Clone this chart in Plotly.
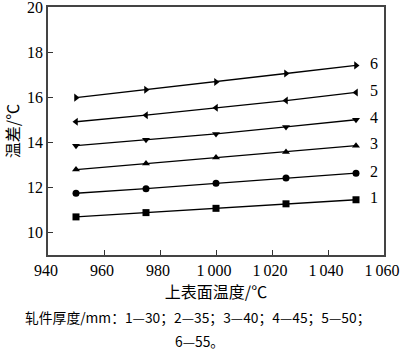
import plotly.graph_objects as go

x_vals = [950, 975, 1000, 1025, 1050]
series = {
    "1": [10.69, 10.88, 11.07, 11.27, 11.45],
    "2": [11.74, 11.94, 12.18, 12.41, 12.63],
    "3": [12.79, 13.06, 13.33, 13.57, 13.85],
    "4": [13.85, 14.11, 14.37, 14.68, 15.00],
    "5": [14.91, 15.20, 15.53, 15.85, 16.21],
    "6": [15.98, 16.33, 16.67, 17.05, 17.41],
}
symbols = ["square", "circle", "triangle-up", "triangle-down", "triangle-left", "triangle-right"]
x_ticks = [940, 960, 980, 1000, 1020, 1040, 1060]
x_tick_text = ["940", "960", "980", "1\u2009000", "1\u2009020", "1\u2009040", "1\u2009060"]
y_ticks = [10, 12, 14, 16, 18, 20]

serif = "Liberation Serif, DejaVu Serif, serif"
cjk = "Noto Sans CJK SC, Liberation Serif, serif"

fig = go.Figure()
for (name, ys), sym in zip(series.items(), symbols):
    fig.add_trace(go.Scatter(
        x=x_vals, y=ys, mode="lines+markers", name=name,
        line=dict(color="black", width=1.3),
        marker=dict(symbol=sym, size=7, color="black"),
        showlegend=False, hoverinfo="skip",
    ))
    fig.add_annotation(x=x_vals[-1], y=ys[-1], text=name, showarrow=False,
                       xanchor="left", xshift=12, yshift=2,
                       font=dict(family=serif, size=16, color="black"))

fig.update_xaxes(range=[940, 1060], tickvals=x_ticks, ticktext=x_tick_text,
                 ticks="inside", ticklen=5, tickcolor="#333", showgrid=False,
                 zeroline=False, showline=True, linecolor="#444", linewidth=1.5,
                 mirror=True, tickfont=dict(family=serif, size=16, color="black"),
                 automargin=False, ticklabeloverflow="allow", ticklabelshift=-2,
                 title=dict(text="上表面温度/℃", font=dict(family=cjk, size=16, color="black"),
                            standoff=5))
fig.update_yaxes(range=[9, 20], tickvals=y_ticks,
                 ticks="inside", ticklen=5, tickcolor="#333", showgrid=False,
                 zeroline=False, showline=True, linecolor="#444", linewidth=1.5,
                 mirror=True, tickfont=dict(family=serif, size=16, color="black"),
                 automargin=False, ticklabeloverflow="allow",
                 title=dict(text="温差/℃", font=dict(family=cjk, size=16, color="black"),
                            standoff=7))

fig.add_annotation(xref="paper", yref="paper", x=0.445, y=-0.25, showarrow=False,
                   text="轧件厚度/mm：1—30；2—35；3—40；4—45；5—50；",
                   font=dict(family=cjk, size=13.8, color="black"), xanchor="center", yanchor="middle")
fig.add_annotation(xref="paper", yref="paper", x=0.45, y=-0.345, showarrow=False,
                   text="6—55。",
                   font=dict(family=cjk, size=13.8, color="black"), xanchor="center", yanchor="middle")

fig.update_layout(width=400, height=355, margin=dict(l=48, r=16, t=7, b=100),
                  plot_bgcolor="white", paper_bgcolor="white")
fig.write_html("out.html", config={"displayModeBar": False},
               post_script="document.body.style.margin='0';")
